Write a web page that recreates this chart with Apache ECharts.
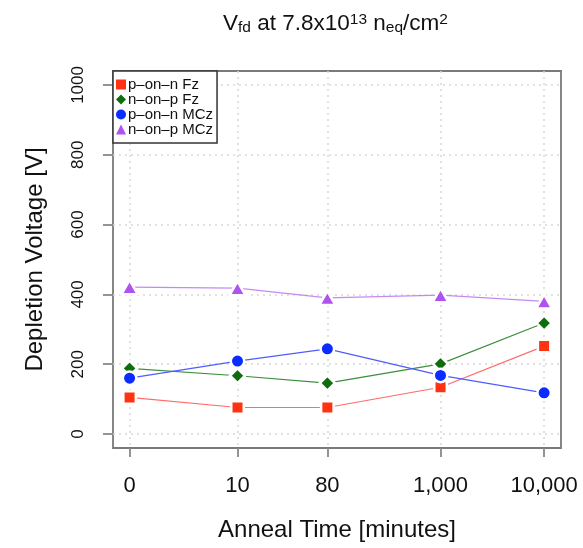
<!DOCTYPE html>
<html>
<head>
<meta charset="utf-8">
<script src="https://cdn.jsdelivr.net/npm/echarts@6/dist/echarts.min.js"></script>
<style>html,body{margin:0;padding:0;background:#fff}#c{width:583px;height:548px}</style>
</head>
<body>
<div id="c"></div>
<script>
var annealTimes = [0, 10, 80, 1000, 10000];
var timeLabels = ["0", "10", "80", "1,000", "10,000"];
var yTicks = [0, 200, 400, 600, 800, 1000];
var seriesNames = ["p\u2013on\u2013n Fz", "n\u2013on\u2013p Fz", "p\u2013on\u2013n MCz", "n\u2013on\u2013p MCz"];
var pOnNFz  = [105, 76, 76, 134, 252];
var nOnPFz  = [188, 167, 146, 201, 318];
var pOnNMCz = [160, 209, 244, 168, 118];
var nOnPMCz = [421, 418, 390, 398, 380];

var values = [pOnNFz, nOnPFz, pOnNMCz, nOnPMCz];
var symbols = ["rect", "diamond", "circle", "triangle"];
var symbolSizes = [12.5, 15, 13.5, [16, 14]];
var markerColors = ["#FF3311", "#0E6E0E", "#0A2CFF", "#B052F0"];
var lineColors = ["#FF6B6B", "#3C8F3C", "#4F5CFF", "#C58AF2"];

function xPos(t) { return Math.log10(t + 1); }
var xTickVals = annealTimes.map(xPos);

var series = values.map(function (vals, i) {
  return {
    name: seriesNames[i],
    type: "line",
    data: vals.map(function (v, j) { return [xPos(annealTimes[j]), v]; }),
    symbol: symbols[i],
    symbolSize: symbolSizes[i],
    showAllSymbol: true,
    lineStyle: { color: lineColors[i], width: 1.2 },
    itemStyle: { color: markerColors[i], borderColor: "#fff", borderWidth: 2.5 },
    emphasis: { disabled: true },
    z: 3
  };
});

var richBase = { color: "#111", fontFamily: "Liberation Sans", fontWeight: "normal" };
function rs(o) { var r = {}; for (var k in richBase) r[k] = richBase[k]; for (var k2 in o) r[k2] = o[k2]; return r; }

var chart = echarts.init(document.getElementById("c"), null, { renderer: "canvas" });
chart.setOption({
  animation: false,
  backgroundColor: "#fff",
  textStyle: { fontFamily: "Liberation Sans" },
  title: {
    left: 218, top: 4,
    text: "{n|V}{sub|fd}{n| at 7.8x10}{sup|13}{n| n}{sub|eq}{n|/cm}{sup|2}",
    textStyle: {
      fontWeight: "normal",
      rich: {
        n: rs({ fontSize: 22.5, lineHeight: 30, verticalAlign: "middle" }),
        sub: rs({ fontSize: 15.5, lineHeight: 15, verticalAlign: "bottom", padding: [0, 0, 3, 0] }),
        sup: rs({ fontSize: 15.5, lineHeight: 15, verticalAlign: "top", padding: [3, 0, 0, 0] })
      }
    }
  },
  legend: {
    orient: "vertical",
    left: 113, top: 71,
    padding: [6, 4, 6, 3],
    itemGap: 0,
    itemWidth: 10, itemHeight: 10,
    itemStyle: { borderWidth: 0 },
    backgroundColor: "#fff",
    borderColor: "#333", borderWidth: 1.5,
    selectedMode: false,
    textStyle: { fontSize: 15, color: "#111", lineHeight: 14, width: 84, overflow: "none", padding: [0, 0, 0, -3] },
    data: seriesNames.map(function (n, i) { return { name: n, icon: symbols[i] }; }),
    z: 10
  },
  grid: {
    left: 113, right: 22, top: 71, bottom: 100,
    show: true, borderColor: "#7a7a7a", borderWidth: 1.8, backgroundColor: "transparent"
  },
  xAxis: {
    type: "value",
    min: -0.16, max: 4.163,
    name: "Anneal Time [minutes]",
    nameLocation: "middle", nameGap: 70,
    nameTextStyle: { fontSize: 24, color: "#111" },
    axisLine: { show: false, onZero: false },
    axisTick: { show: true, customValues: xTickVals, length: 9, lineStyle: { color: "#888", width: 1.8 } },
    axisLabel: {
      customValues: xTickVals, margin: 27, fontSize: 22, color: "#111",
      formatter: function (v) {
        for (var i = 0; i < xTickVals.length; i++) { if (Math.abs(xTickVals[i] - v) < 1e-6) return timeLabels[i]; }
        return "";
      }
    },
    splitLine: { show: true, lineStyle: { color: "#d8d8d8", type: [2, 4], width: 1.5 } }
  },
  yAxis: {
    type: "value",
    min: -40, max: 1040,
    name: "Depletion Voltage [V]",
    nameLocation: "middle", nameGap: 66,
    nameTextStyle: { fontSize: 24, color: "#111" },
    axisLine: { show: false, onZero: false },
    axisTick: { show: true, customValues: yTicks, length: 10, lineStyle: { color: "#888", width: 1.8 } },
    axisLabel: { customValues: yTicks, rotate: 90, margin: 26, fontSize: 17, color: "#111",
      formatter: function (v) { return String(v); } },
    splitLine: { show: true, lineStyle: { color: "#d8d8d8", type: [2, 4], width: 1.5 } }
  },
  series: series
});
</script>
</body>
</html>
